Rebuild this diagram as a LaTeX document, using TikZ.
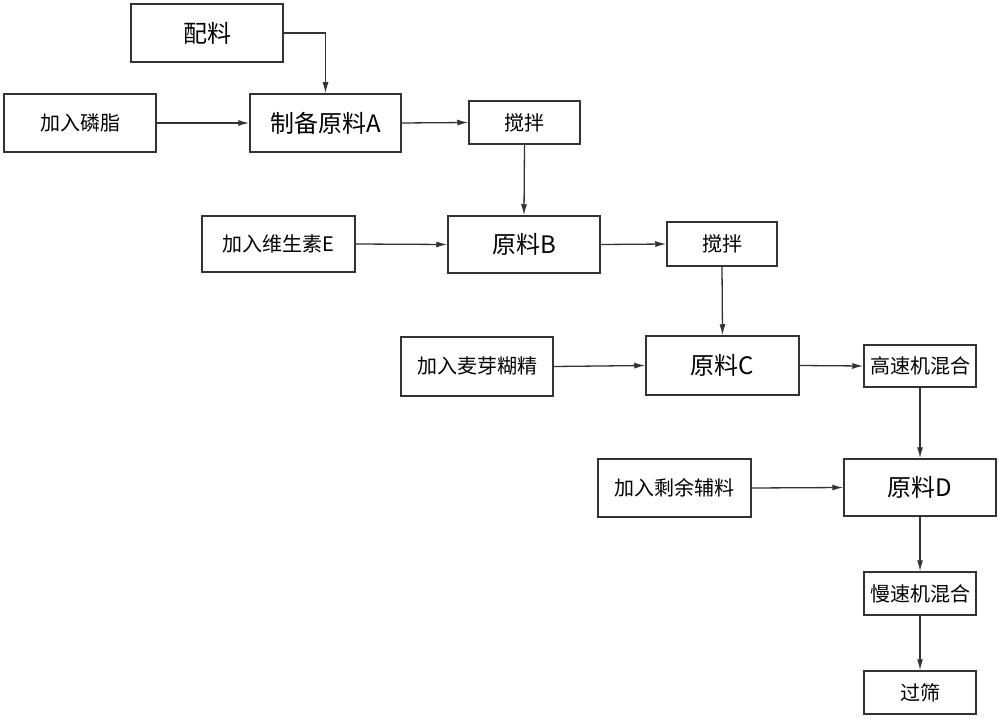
\documentclass[tikz,border=0pt]{standalone}
\usepackage{fontspec}
\setmainfont{Noto Sans CJK SC}
\usetikzlibrary{arrows.meta}
\begin{document}
\begin{tikzpicture}[x=1pt,y=-1pt,
  box/.style={draw=black!80, line width=1.5pt, rectangle, inner sep=0pt, fill=white},
  bigbox/.style={box, font=\fontsize{24}{26}\selectfont},
  smallbox/.style={box, font=\fontsize{20}{22}\selectfont},
  arr/.style={draw=black!80, line width=1.3pt, -{Latex[length=11pt,width=6pt]}}]
\useasboundingbox[fill=white] (0,0) rectangle (1000,719);
\node[bigbox, minimum width=152, minimum height=58] (pl) at (207,33) {配料};
\node[smallbox, minimum width=152, minimum height=58] (lz) at (80,123) {加入磷脂};
\node[bigbox, minimum width=151, minimum height=58] (A) at (325.5,123) {制备原料A};
\node[smallbox, minimum width=111, minimum height=43] (jb1) at (524.5,122.5) {搅拌};
\node[smallbox, minimum width=153, minimum height=56] (ve) at (278.5,244) {加入维生素E};
\node[bigbox, minimum width=152, minimum height=57] (B) at (524,244.5) {原料B};
\node[smallbox, minimum width=110, minimum height=44] (jb2) at (722,244) {搅拌};
\node[smallbox, minimum width=152, minimum height=59] (my) at (477,366.5) {加入麦芽糊精};
\node[bigbox, minimum width=153, minimum height=59] (C) at (722.5,365.5) {原料C};
\node[smallbox, minimum width=112, minimum height=42] (gs) at (920,366) {高速机混合};
\node[smallbox, minimum width=153, minimum height=58] (sy) at (674.5,488) {加入剩余辅料};
\node[bigbox, minimum width=152, minimum height=57] (D) at (920,487.5) {原料D};
\node[smallbox, minimum width=112, minimum height=43] (ms) at (920,593.5) {慢速机混合};
\node[smallbox, minimum width=112, minimum height=43] (gsh) at (920,692.5) {过筛};
\draw[arr] (pl.east) -| (A.north);
\draw[arr] (lz.east) -- (A.west);
\draw[arr] (A.east) -- (jb1.west);
\draw[arr] (jb1.south) -- (B.north);
\draw[arr] (ve.east) -- (B.west);
\draw[arr] (B.east) -- (jb2.west);
\draw[arr] (jb2.south) -- (C.north);
\draw[arr] (my.east) -- (C.west);
\draw[arr] (C.east) -- (gs.west);
\draw[arr] (gs.south) -- (D.north);
\draw[arr] (sy.east) -- (D.west);
\draw[arr] (D.south) -- (ms.north);
\draw[arr] (ms.south) -- (gsh.north);
\end{tikzpicture}
\end{document}
